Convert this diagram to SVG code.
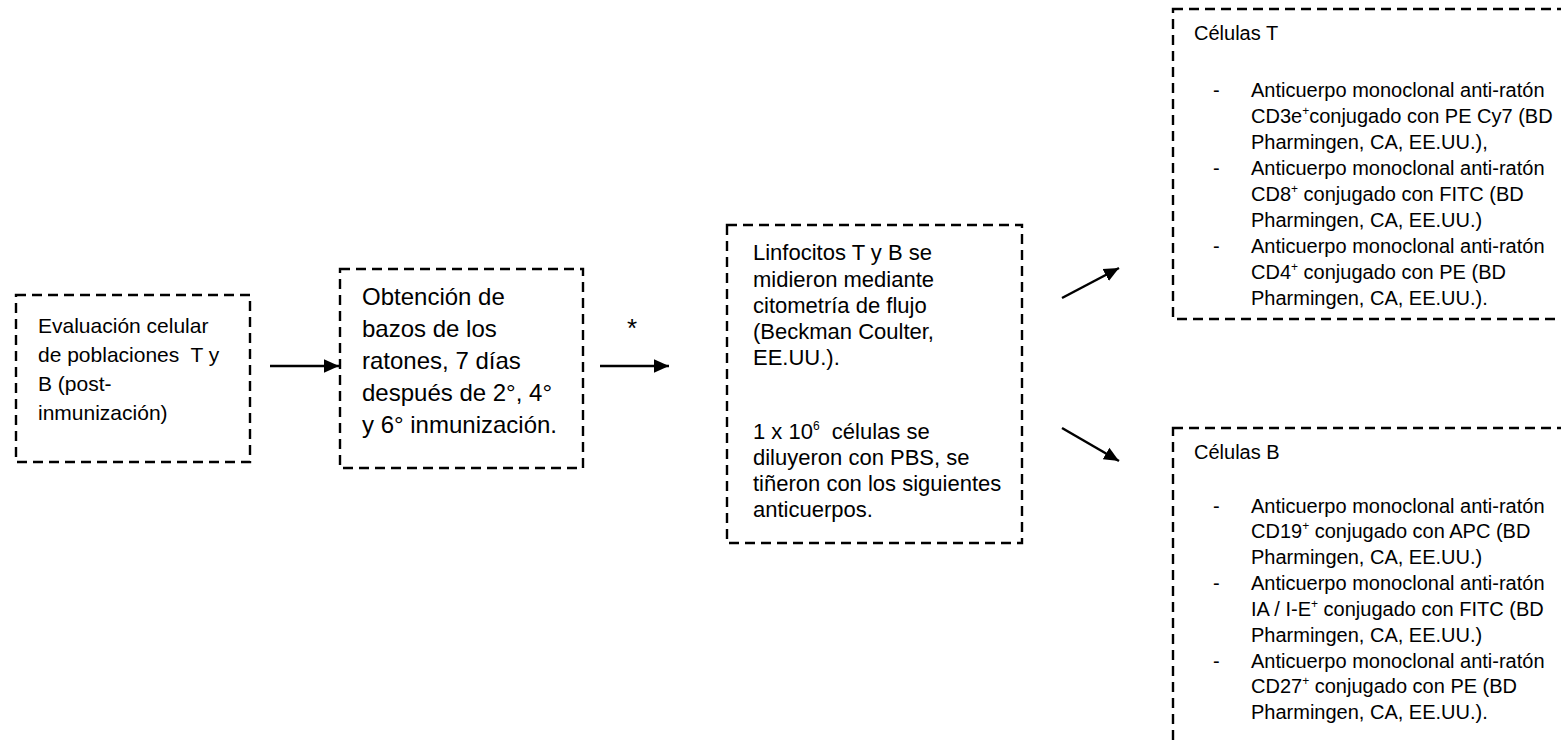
<svg xmlns="http://www.w3.org/2000/svg" width="1561" height="746" viewBox="0 0 1561 746">
<style>
.box{fill:none;stroke:#000;stroke-width:2.4;stroke-dasharray:10 6}
.t{font-family:"Liberation Sans",Arial,sans-serif;fill:#000}
.t1{font-size:21px}
.t2{font-size:24px}
.t3{font-size:22px}
.t4{font-size:20px}
.sup{font-size:12px}
.conn{stroke:#000;stroke-width:2.5;fill:none}
</style>
<defs>
<marker id="ah" viewBox="0 0 10 10" refX="10" refY="5" markerWidth="6" markerHeight="6" markerUnits="strokeWidth" orient="auto">
<path d="M0,0.5 L10,5 L0,9.5 z" fill="#000"/>
</marker>
</defs>
<rect width="1561" height="746" fill="#fff"/>
<g id="n1">
<rect class="box" x="16" y="295" width="234" height="167"/>
<text class="t t1" xml:space="preserve"><tspan x="38" y="333">Evaluación celular</tspan><tspan x="38" y="362">de poblaciones  T y</tspan><tspan x="38" y="391">B (post-</tspan><tspan x="38" y="420">inmunización)</tspan></text>
</g>
<g id="n2">
<rect class="box" x="340" y="269" width="243" height="199"/>
<text class="t t2"><tspan x="362" y="305">Obtención de</tspan><tspan x="362" y="337">bazos de los</tspan><tspan x="362" y="369">ratones, 7 días</tspan><tspan x="362" y="401">después de 2°, 4°</tspan><tspan x="362" y="433">y 6° inmunización.</tspan></text>
</g>
<g id="n3">
<rect class="box" x="727" y="225" width="295" height="318"/>
<text class="t t3" xml:space="preserve"><tspan x="753" y="260">Linfocitos T y B se</tspan><tspan x="753" y="287">midieron mediante</tspan><tspan x="753" y="313">citometría de flujo</tspan><tspan x="753" y="339">(Beckman Coulter,</tspan><tspan x="753" y="365">EE.UU.).</tspan><tspan x="753" y="439">1 x 10<tspan class="sup" dy="-9">6</tspan><tspan dy="9">  células se</tspan></tspan><tspan x="753" y="465">diluyeron con PBS, se</tspan><tspan x="753" y="491">tiñeron con los siguientes</tspan><tspan x="753" y="517">anticuerpos.</tspan></text>
</g>
<g id="n4">
<rect class="box" x="1173" y="9" width="420" height="310"/>
<text class="t t4"><tspan x="1194" y="40">Células T</tspan></text>
<text class="t t4"><tspan x="1213" y="97">-</tspan><tspan x="1213" y="175">-</tspan><tspan x="1213" y="253">-</tspan></text>
<text class="t t4"><tspan x="1251" y="97">Anticuerpo monoclonal anti-ratón</tspan><tspan x="1251" y="123">CD3e<tspan class="sup" dy="-8">+</tspan><tspan dy="8">conjugado con PE Cy7 (BD</tspan></tspan><tspan x="1251" y="149">Pharmingen, CA, EE.UU.),</tspan><tspan x="1251" y="175">Anticuerpo monoclonal anti-ratón</tspan><tspan x="1251" y="201">CD8<tspan class="sup" dy="-8">+</tspan><tspan dy="8"> conjugado con FITC (BD</tspan></tspan><tspan x="1251" y="227">Pharmingen, CA, EE.UU.)</tspan><tspan x="1251" y="253">Anticuerpo monoclonal anti-ratón</tspan><tspan x="1251" y="279">CD4<tspan class="sup" dy="-8">+</tspan><tspan dy="8"> conjugado con PE (BD</tspan></tspan><tspan x="1251" y="305">Pharmingen, CA, EE.UU.).</tspan></text>
</g>
<g id="n5">
<rect class="box" x="1173" y="428" width="420" height="360"/>
<text class="t t4"><tspan x="1194" y="459">Células B</tspan></text>
<text class="t t4"><tspan x="1213" y="513">-</tspan><tspan x="1213" y="590">-</tspan><tspan x="1213" y="668">-</tspan></text>
<text class="t t4"><tspan x="1251" y="513">Anticuerpo monoclonal anti-ratón</tspan><tspan x="1251" y="538">CD19<tspan class="sup" dy="-8">+</tspan><tspan dy="8"> conjugado con APC (BD</tspan></tspan><tspan x="1251" y="564">Pharmingen, CA, EE.UU.)</tspan><tspan x="1251" y="590">Anticuerpo monoclonal anti-ratón</tspan><tspan x="1251" y="616">IA / I-E<tspan class="sup" dy="-8">+</tspan><tspan dy="8"> conjugado con FITC (BD</tspan></tspan><tspan x="1251" y="642">Pharmingen, CA, EE.UU.)</tspan><tspan x="1251" y="668">Anticuerpo monoclonal anti-ratón</tspan><tspan x="1251" y="693">CD27<tspan class="sup" dy="-8">+</tspan><tspan dy="8"> conjugado con PE (BD</tspan></tspan><tspan x="1251" y="719">Pharmingen, CA, EE.UU.).</tspan></text>
</g>
<g id="connectors">
<line class="conn" x1="270" y1="366" x2="339" y2="366" marker-end="url(#ah)"/>
<line class="conn" x1="600" y1="366" x2="669" y2="366" marker-end="url(#ah)"/>
<text class="t" x="627" y="337" style="font-size:26px">*</text>
<line class="conn" x1="1062" y1="298" x2="1119" y2="268" marker-end="url(#ah)"/>
<line class="conn" x1="1062" y1="428" x2="1119" y2="461" marker-end="url(#ah)"/>
</g>
</svg>
